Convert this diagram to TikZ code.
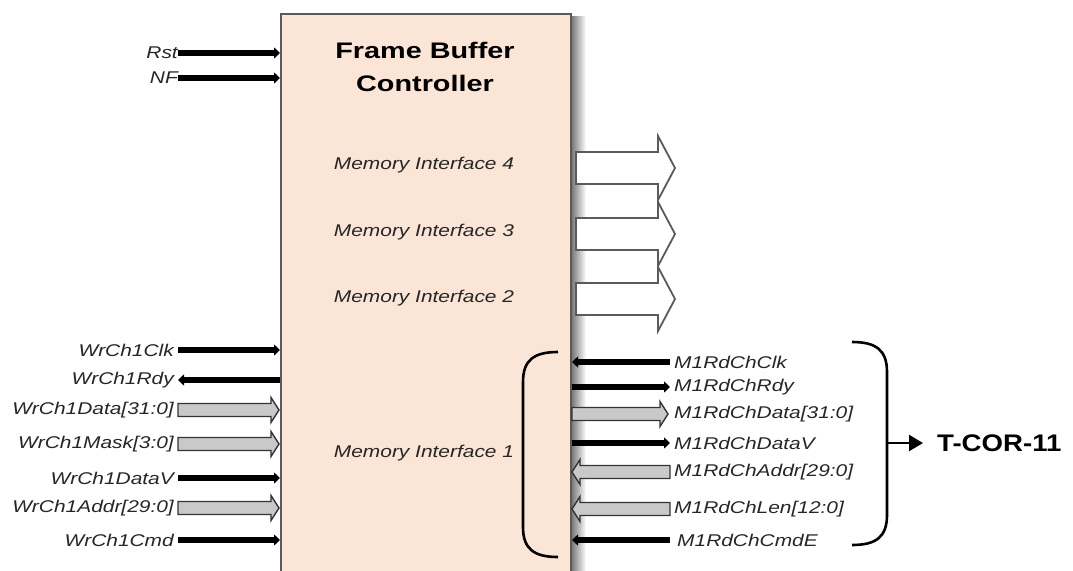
\documentclass[tikz,border=0pt]{standalone}
\usepackage{fontspec}
\setmainfont{Liberation Sans}
\newfontfamily\sigfont[FakeStretch=1.23]{Liberation Sans}
\newfontfamily\titlefont[FakeStretch=1.28]{Liberation Sans}
\newfontfamily\tcorfont[FakeStretch=1.15]{Liberation Sans}
\usetikzlibrary{arrows.meta}
\definecolor{boxfill}{HTML}{FBE5D6}
\definecolor{boxline}{HTML}{5A5A5A}
\definecolor{txt}{HTML}{262626}
\definecolor{busfill}{HTML}{C9C9C9}
\tikzset{
  siglabel/.style={inner sep=0pt, text=txt, font=\sigfont\itshape\fontsize{17}{19}\selectfont},
  titletext/.style={inner sep=0pt, text=black, font=\titlefont\bfseries\fontsize{22.5}{26}\selectfont},
  wire/.style={line width=6.5pt, black, -{Triangle[length=6pt,width=11pt]}},
  bus/.style={draw=black!80, line width=1.4pt, fill=busfill, line join=miter},
  bigarrow/.style={draw=boxline, line width=1.8pt, fill=white, line join=miter},
  brace/.style={line width=2.6pt, black},
}
% bus arrow pointing right: x1 (tail), x2 (tip), y
\newcommand{\busR}[3]{\draw[bus] (#1,#3-6.5) -- (#2-8,#3-6.5) -- (#2-8,#3-12.5) -- (#2,#3) -- (#2-8,#3+12.5) -- (#2-8,#3+6.5) -- (#1,#3+6.5) -- cycle;}
% bus arrow pointing left: x1 (tip), x2 (tail), y
\newcommand{\busL}[3]{\draw[bus] (#2,#3-6.5) -- (#1+8,#3-6.5) -- (#1+8,#3-12.5) -- (#1,#3) -- (#1+8,#3+12.5) -- (#1+8,#3+6.5) -- (#2,#3+6.5) -- cycle;}
% big hollow arrow: y center
\newcommand{\bigR}[1]{\draw[bigarrow] (576,#1-16) -- (658,#1-16) -- (658,#1-32) -- (675,#1) -- (658,#1+32) -- (658,#1+16) -- (576,#1+16) -- cycle;}
\begin{document}
\begin{tikzpicture}[x=1pt,y=-1pt]
\useasboundingbox (0,0) rectangle (1073,570);
\clip (0,0) rectangle (1073,570);
% shadow
\shade[left color=black!55, right color=white] (571,16) rectangle (586,600);
% main box
\node[draw=boxline, line width=2pt, fill=boxfill, minimum width=290pt, minimum height=600pt, inner sep=0pt, anchor=north west] (fbc) at (280,13) {};
\node[titletext] (t1) at (425,50) {Frame Buffer};
\node[titletext] (t2) at (425,83) {Controller};
% memory interfaces
\node[siglabel] (mi4) at (424,165) {Memory Interface 4};
\node[siglabel] (mi3) at (424,232) {Memory Interface 3};
\node[siglabel] (mi2) at (424,298) {Memory Interface 2};
\node[siglabel] (mi1) at (424,453) {Memory Interface 1};
\bigR{168}
\bigR{234}
\bigR{299}
% Rst / NF
\node[siglabel, anchor=east] (rst) at (178,53) {Rst};
\node[siglabel, anchor=east] (nf) at (178,78) {NF};
\coordinate (rstin) at (280,53);
\coordinate (nfin) at (280,78);
\draw[wire] (rst.east) -- (rstin);
\draw[wire] (nf.east) -- (nfin);
% left write channel
\node[siglabel, anchor=east] (wclk) at (174,350) {WrCh1Clk};
\node[siglabel, anchor=east] (wrdy) at (174,380) {WrCh1Rdy};
\node[siglabel, anchor=east] (wdata) at (174,410) {WrCh1Data[31:0]};
\node[siglabel, anchor=east] (wmask) at (174,444) {WrCh1Mask[3:0]};
\node[siglabel, anchor=east] (wdv) at (174,478) {WrCh1DataV};
\node[siglabel, anchor=east] (waddr) at (174,508) {WrCh1Addr[29:0]};
\node[siglabel, anchor=east] (wcmd) at (174,540) {WrCh1Cmd};
\coordinate (wclkT) at (178,350); \coordinate (wclkB) at (280,350);
\coordinate (wrdyT) at (178,380); \coordinate (wrdyB) at (280,380);
\coordinate (wdvT) at (178,478); \coordinate (wdvB) at (280,478);
\coordinate (wcmdT) at (178,540); \coordinate (wcmdB) at (280,540);
\draw[wire] (wclkT) -- (wclkB);
\draw[wire] (wrdyB) -- (wrdyT);
\draw[wire] (wdvT) -- (wdvB);
\draw[wire] (wcmdT) -- (wcmdB);
\busR{178}{279}{410}
\busR{178}{279}{444}
\busR{178}{279}{508}
% right read channel
\node[siglabel, anchor=west] (rclk) at (674,362) {M1RdChClk};
\node[siglabel, anchor=west] (rrdy) at (674,387) {M1RdChRdy};
\node[siglabel, anchor=west] (rdata) at (674,414) {M1RdChData[31:0]};
\node[siglabel, anchor=west] (rdv) at (674,443) {M1RdChDataV};
\node[siglabel, anchor=west] (raddr) at (674,472) {M1RdChAddr[29:0]};
\node[siglabel, anchor=west] (rlen) at (674,509) {M1RdChLen[12:0]};
\node[siglabel, anchor=west] (rcmd) at (677,540) {M1RdChCmdE};
\coordinate (rclkB) at (572,362); \coordinate (rclkT) at (670,362);
\coordinate (rrdyB) at (572,387); \coordinate (rrdyT) at (670,387);
\coordinate (rdvB) at (572,443); \coordinate (rdvT) at (670,443);
\coordinate (rcmdB) at (572,540); \coordinate (rcmdT) at (670,540);
\draw[wire] (rclkT) -- (rclkB);
\draw[wire] (rrdyB) -- (rrdyT);
\draw[wire] (rdvB) -- (rdvT);
\draw[wire] (rcmdT) -- (rcmdB);
\busR{572}{668}{414}
\busL{572}{670}{472}
\busL{572}{670}{509}
% braces
\draw[brace] (558,352) .. controls (534,352) and (523,360) .. (523,382) -- (523,527) .. controls (523,549) and (534,557) .. (558,557);
\draw[brace] (852,342) .. controls (876,342) and (887,350) .. (887,372) -- (887,515) .. controls (887,537) and (876,545) .. (852,545);
\coordinate (brR) at (887,443);
\node[inner sep=0pt, anchor=west, font=\tcorfont\bfseries\fontsize{24}{28}\selectfont] (tcor) at (937,443) {T-COR-11};
\draw[line width=2.4pt, -{Triangle[length=14pt,width=16pt]}] (brR) -- ([xshift=-14pt]tcor.west);
\end{tikzpicture}
\end{document}
